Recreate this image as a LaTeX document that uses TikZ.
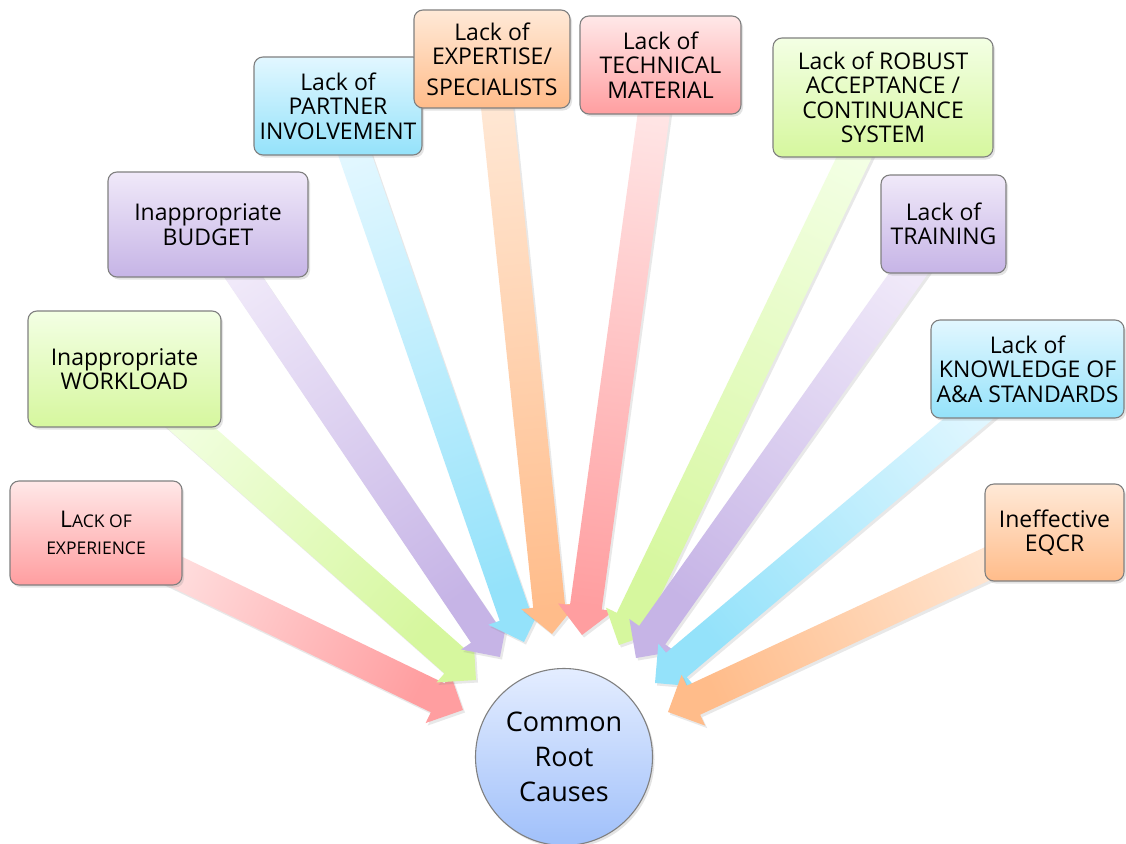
\documentclass[tikz,border=0pt]{standalone}
\usepackage{fontspec}
\setmainfont{Open Sans}
\usetikzlibrary{calc,shadows}
\pgfdeclarelayer{bg}
\pgfsetlayers{bg,main}
\definecolor{redL}{RGB}{255,232,232}
\definecolor{redD}{RGB}{255,158,160}
\definecolor{greenL}{RGB}{243,255,228}
\definecolor{greenD}{RGB}{214,247,158}
\definecolor{purpleL}{RGB}{240,233,249}
\definecolor{purpleD}{RGB}{198,180,230}
\definecolor{blueL}{RGB}{226,247,255}
\definecolor{blueD}{RGB}{148,226,250}
\definecolor{orangeL}{RGB}{255,233,215}
\definecolor{orangeD}{RGB}{255,188,138}
\definecolor{circL}{RGB}{228,237,255}
\definecolor{circD}{RGB}{160,192,250}
\definecolor{edgegray}{RGB}{128,128,128}
\newcommand\rcarrow[4]{%
  \path let \p1=(#1.center), \p2=(#2), \n1={atan2(\y2-\y1,\x2-\x1)} in
    \pgfextra{\pgfmathsetmacro\rcang{\n1+90}\xdef\rcang{\rcang}};
  \coordinate (rcB) at ($(#2)!28pt!(#1.center)$);
  \shade[arrowshadow, left color=#3, right color=#4, shading angle=\rcang]
    ($(#1.center)!16pt!90:(#2)$) -- ($(rcB)!16pt!90:(#2)$) -- ($(rcB)!28pt!90:(#2)$)
    -- (#2) -- ($(rcB)!28pt!-90:(#2)$) -- ($(rcB)!16pt!-90:(#2)$)
    -- ($(#1.center)!16pt!-90:(#2)$) -- cycle;
}
\begin{document}
\begin{tikzpicture}[x=1pt,y=-1pt,
  cbox/.style={draw=edgegray, line width=1.1pt, rounded corners=9pt, align=center,
    inner sep=0pt, font=\fontsize{23}{24.5}\selectfont,
    drop shadow={opacity=.22, shadow xshift=2pt, shadow yshift=-2.5pt}},
  redbox/.style={cbox, top color=redL, bottom color=redD},
  greenbox/.style={cbox, top color=greenL, bottom color=greenD},
  purplebox/.style={cbox, top color=purpleL, bottom color=purpleD},
  bluebox/.style={cbox, top color=blueL, bottom color=blueD},
  orangebox/.style={cbox, top color=orangeL, bottom color=orangeD},
  arrowshadow/.style={drop shadow={opacity=.18, shadow xshift=2pt, shadow yshift=-2.5pt}}]
\useasboundingbox (0,0) rectangle (1126,843);

\node[redbox, minimum width=172pt, minimum height=104pt, font=\fontsize{17.5}{27}\selectfont]
  (exp) at (96,533) {{\fontsize{23}{24}\selectfont L}ACK OF\\EXPERIENCE};
\node[greenbox, minimum width=193pt, minimum height=116pt] (work) at (124.5,369) {Inappropriate\\WORKLOAD};
\node[purplebox, minimum width=200pt, minimum height=105pt] (budget) at (208,224.5) {Inappropriate\\BUDGET};
\node[bluebox, minimum width=168pt, minimum height=98pt] (partner) at (338,106) {Lack of\\PARTNER\\INVOLVEMENT};
\node[orangebox, minimum width=156pt, minimum height=98pt] (expert) at (492,59) {Lack of\\EXPERTISE/\\[6pt]SPECIALISTS};
\node[redbox, minimum width=161pt, minimum height=98pt] (tech) at (660.5,65) {Lack of\\TECHNICAL\\MATERIAL};
\node[greenbox, minimum width=220pt, minimum height=119pt] (robust) at (883,97.5) {Lack of ROBUST\\ACCEPTANCE /\\CONTINUANCE\\SYSTEM};
\node[purplebox, minimum width=125pt, minimum height=98pt] (train) at (943.5,224) {Lack of\\TRAINING};
\node[bluebox, minimum width=193pt, minimum height=98pt] (know) at (1027.5,369) {Lack of\\KNOWLEDGE OF\\A\&A STANDARDS};
\node[orangebox, minimum width=139pt, minimum height=97pt] (eqcr) at (1054.5,532.5) {Ineffective\\EQCR};

\node[circle, draw=edgegray, line width=1.1pt, minimum size=177pt, inner sep=0pt,
  top color=circL, bottom color=circD, align=center, font=\fontsize{27}{35}\selectfont,
  drop shadow={opacity=.22, shadow xshift=2pt, shadow yshift=-2.5pt}]
  (root) at (564,757) {Common\\Root\\Causes};

\coordinate (t1) at (463,710);
\coordinate (t2) at (476,680);
\coordinate (t3) at (500,657);
\coordinate (t4) at (524,642);
\coordinate (t5) at (552,634);
\coordinate (t6) at (582,635);
\coordinate (t7) at (619,645);
\coordinate (t8) at (636,658);
\coordinate (t9) at (655,683);
\coordinate (t10) at (668,712);

\begin{pgfonlayer}{bg}
\fill[white] (0,0) rectangle (1126,843);
\rcarrow{exp}{t1}{redL}{redD}
\rcarrow{work}{t2}{greenL}{greenD}
\rcarrow{budget}{t3}{purpleL}{purpleD}
\rcarrow{partner}{t4}{blueL}{blueD}
\rcarrow{expert}{t5}{orangeL}{orangeD}
\rcarrow{tech}{t6}{redL}{redD}
\rcarrow{robust}{t7}{greenL}{greenD}
\rcarrow{train}{t8}{purpleL}{purpleD}
\rcarrow{know}{t9}{blueL}{blueD}
\rcarrow{eqcr}{t10}{orangeL}{orangeD}
\end{pgfonlayer}
\end{tikzpicture}
\end{document}
